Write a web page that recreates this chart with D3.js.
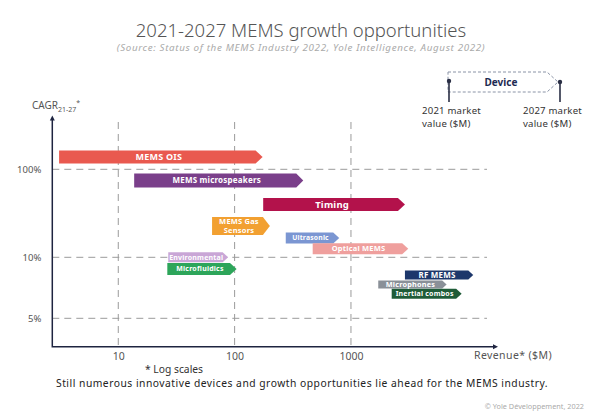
<!DOCTYPE html>
<html>
<head>
<meta charset="utf-8">
<script src="https://cdn.jsdelivr.net/npm/d3@7"></script>
<style>
  html, body { margin: 0; padding: 0; background: #fff; }
  svg { display: block; font-family: "Noto Sans", "DejaVu Sans", sans-serif; }
</style>
</head>
<body>
<svg id="chart" width="600" height="420"></svg>
<script>
// ---------------- data ----------------
const devices   = ["MEMS OIS", "MEMS microspeakers", "Timing", "MEMS Gas\nSensors", "Ultrasonic", "Optical MEMS", "Environmental", "Microfluidics", "RF MEMS", "Microphones", "Inertial combos"];
const revenue2021 = [3.1, 13.7, 176, 64, 275, 469, 26.9, 26.4, 2911, 1717, 2238];
const revenue2027 = [174, 389, 2911, 201, 793, 3107, 88, 104, 11250, 6640, 8940];
const cagr        = [138, 74.6, 39.8, 22.7, 16.6, 12.5, 10, 8.76, 8.18, 7.35, 6.6];
const xTickValues = [10, 100, 1000];
const xTickLabels = ["10", "100", "1000"];
const yTickValues = [100, 10, 5];
const yTickLabels = ["100%", "10%", "5%"];

// ---------------- styles ----------------
const barColors  = ["#e9594f", "#7a3f8a", "#b3124b", "#f2a031", "#7b96d2", "#ef9f9d", "#c9a6d6", "#2da55a", "#1d376b", "#8a9098", "#1f5c38"];
const barHeights = [13, 14, 13, 18, 11, 11, 10, 12, 9, 8, 10];
const fontSizes  = [9, 8, 9.5, 7.5, 6.8, 7.5, 7, 7, 8, 7.3, 7];

const svg = d3.select("#chart");

// scales (log x, piecewise log y)
const x = d3.scaleLog().domain([2.71, 17300]).range([52.3, 495]);
const y = d3.scaleLog().domain([100, 10, 5]).range([169.3, 257.3, 318.3]);
const axisY0 = 346.7, axisTop = 118.5, gridTop = 122, gridRight = 487;

// ---------- title ----------
svg.append("text").attr("x", 301).attr("y", 37).attr("text-anchor", "middle")
  .attr("font-size", 18.5).attr("fill", "#555").attr("font-weight", 300)
  .text("2021-2027 MEMS growth opportunities");
svg.append("text").attr("x", 301).attr("y", 51).attr("text-anchor", "middle")
  .attr("font-size", 9.8).attr("font-style", "italic").attr("fill", "#aaa").attr("letter-spacing", 0.65)
  .text("(Source:  Status of the MEMS Industry 2022, Yole Intelligence, August 2022)");

// ---------- gridlines ----------
const grid = svg.append("g").attr("stroke", "#9a9a9a").attr("stroke-width", 1).attr("stroke-dasharray", "7,5").attr("fill", "none");
grid.selectAll("line.v").data(xTickValues).join("line")
  .attr("x1", d => x(d)).attr("x2", d => x(d)).attr("y1", gridTop).attr("y2", axisY0);
grid.selectAll("line.h").data(yTickValues).join("line")
  .attr("x1", x.range()[0]).attr("x2", gridRight).attr("y1", d => y(d)).attr("y2", d => y(d));

// ---------- axes ----------
const xAxis = d3.axisBottom(x).tickValues(xTickValues).tickFormat((d, i) => xTickLabels[i]).tickSize(0).tickPadding(6);
const gx = svg.append("g").attr("transform", `translate(0,${axisY0})`).call(xAxis);
gx.select(".domain").remove();
gx.selectAll("text").attr("font-size", 10.5).attr("fill", "#555").attr("font-family", "Noto Sans, sans-serif");

const yAxis = d3.axisLeft(y).tickValues(yTickValues).tickFormat((d, i) => yTickLabels[i]).tickSize(0).tickPadding(11);
const gy = svg.append("g").attr("transform", `translate(${x.range()[0]},0)`).call(yAxis);
gy.select(".domain").remove();
gy.selectAll("text").attr("font-size", 9.5).attr("fill", "#555").attr("font-family", "Noto Sans, sans-serif");

const axisColor = "#1e2440";
svg.append("path").attr("d", `M${x.range()[0]},${axisTop} V${axisY0} H${x.range()[1]}`)
  .attr("fill", "none").attr("stroke", axisColor).attr("stroke-width", 1.5);
svg.append("path").attr("d", `M${x.range()[0]},${axisTop - 3} l-2.5,5 h5 Z`).attr("fill", axisColor);
svg.append("path").attr("d", `M${x.range()[1] + 3},${axisY0} l-5,-2.5 v5 Z`).attr("fill", axisColor);

// axis titles
const cag = svg.append("text").attr("x", 32).attr("y", 109).attr("font-size", 10).attr("fill", "#555");
cag.append("tspan").text("CAGR");
cag.append("tspan").attr("font-size", 7).attr("dy", 2.5).text("21-27");
cag.append("tspan").attr("font-size", 7).attr("dy", -6.5).text("*");

svg.append("text").attr("x", 474).attr("y", 359).attr("font-size", 10.5).attr("fill", "#555").attr("letter-spacing", 0.4).text("Revenue* ($M)");

// ---------- bars ----------
const idx = d3.range(devices.length);
const bars = svg.append("g");
bars.selectAll("path").data(idx).join("path")
  .attr("d", i => {
    const x0 = x(revenue2021[i]), x1 = x(revenue2027[i]), cy = y(cagr[i]), h = barHeights[i], dpt = Math.min(7, h * 0.55);
    return `M${x0},${cy - h / 2} H${x1 - dpt} L${x1},${cy} L${x1 - dpt},${cy + h / 2} H${x0} Z`;
  })
  .attr("fill", i => barColors[i]);

bars.selectAll("text").data(idx).join("text")
  .attr("x", i => (x(revenue2021[i]) + x(revenue2027[i]) - 4) / 2)
  .attr("y", i => y(cagr[i]))
  .attr("text-anchor", "middle")
  .attr("font-size", i => fontSizes[i])
  .attr("font-weight", "bold")
  .attr("fill", "#fff")
  .attr("letter-spacing", 0.2)
  .each(function (i) {
    const lines = devices[i].split("\n");
    const sel = d3.select(this);
    const lh = fontSizes[i] * 1.15;
    lines.forEach((t, k) => {
      sel.append("tspan").attr("x", sel.attr("x"))
        .attr("dy", k === 0 ? (-(lines.length - 1) * lh / 2 + fontSizes[i] * 0.35) : lh)
        .text(t);
    });
  });

// ---------- legend ----------
const lg = svg.append("g");
lg.append("path").attr("d", "M448,72 H547 L558,82 L547,92 H448 Z")
  .attr("fill", "none").attr("stroke", "#8a93a6").attr("stroke-width", 1).attr("stroke-dasharray", "3,2");
lg.append("text").attr("x", 501).attr("y", 86).attr("text-anchor", "middle")
  .attr("font-size", 10).attr("font-weight", "bold").attr("fill", "#1e2b52").text("Device");
[[449, 81], [560, 82]].forEach(([mx, my]) => {
  lg.append("line").attr("x1", mx).attr("x2", mx).attr("y1", my).attr("y2", 102)
    .attr("stroke", "#2a2f45").attr("stroke-width", 1.6);
  lg.append("circle").attr("cx", mx).attr("cy", my).attr("r", 2.2).attr("fill", "#2a2f45");
});
[["2021 market", "value ($M)", 422], ["2027 market", "value ($M)", 523]].forEach(([a, b, tx]) => {
  lg.append("text").attr("x", tx).attr("y", 114).attr("font-size", 9.6).attr("fill", "#333").attr("letter-spacing", 0.2).text(a);
  lg.append("text").attr("x", tx).attr("y", 127).attr("font-size", 9.6).attr("fill", "#333").attr("letter-spacing", 0.2).text(b);
});

// ---------- footer ----------
svg.append("text").attr("x", 145).attr("y", 373).attr("font-size", 10.3).attr("fill", "#333").text("* Log scales");
svg.append("text").attr("x", 56).attr("y", 387).attr("font-size", 10.3).attr("fill", "#222").attr("letter-spacing", 0.5)
  .text("Still numerous innovative devices and growth opportunities lie ahead for the MEMS industry.");
svg.append("text").attr("x", 584).attr("y", 409).attr("text-anchor", "end").attr("font-size", 7.3).attr("fill", "#aaa")
  .text("© Yole Développement, 2022");
</script>
</body>
</html>
